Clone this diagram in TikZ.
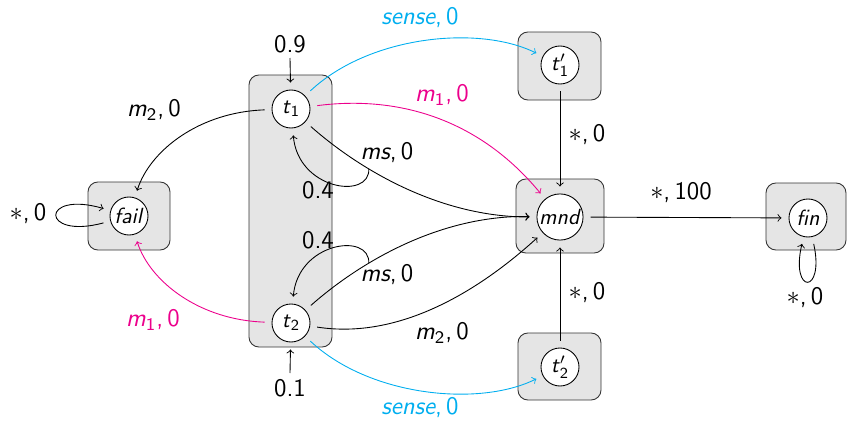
\documentclass[tikz,border=0pt]{standalone}
\usepackage{amsmath}
\definecolor{mag}{RGB}{236,0,140}
\definecolor{cya}{RGB}{0,174,239}
% sans italic variable with a sans index, optional prime
\newcommand{\vsub}[2]{$\text{\textit{#1}}_{\text{#2}}$}
\newcommand{\vpsub}[2]{$\text{\textit{#1}}'_{\text{#2}}$}
\tikzset{
  state/.style={circle,draw,fill=white,inner sep=0pt,minimum size=17.3pt,outer sep=3.4pt},
  grp/.style={draw=black!80,fill=black!10,rounded corners=4.5pt},
  arr/.style={->},
  lbl/.style={inner sep=0pt,font=\sffamily\fontsize{11.5}{14}\selectfont},
}
\begin{document}
\begin{tikzpicture}[x=0.455pt,y=-0.455pt,font=\sffamily]
\useasboundingbox (0,0) rectangle (847,421);

% grey group boxes
\draw[grp] (88,182) rectangle (170,250);
\draw[grp] (249,75) rectangle (332,347);
\draw[grp] (518,32) rectangle (601,100);
\draw[grp] (516,179) rectangle (604,253);
\draw[grp] (518,333) rectangle (601,400);
\draw[grp] (766,183) rectangle (846,250);

% states
\node[state] (fail) at (129,216) {\textit{fail}};
\node[state] (t1) at (291,109) {\vsub{t}{1}};
\node[state] (t2) at (291,323) {\vsub{t}{2}};
\node[state] (t1p) at (560,65) {\vpsub{t}{1}};
\node[state,minimum size=21pt] (mnd) at (560,217) {\textit{mnd}};
\node[state] (t2p) at (560,367) {\vpsub{t}{2}};
\node[state] (fin) at (808,218) {\textit{fin}};

% initial distribution
\node[lbl] (p9) at (290,44) {0.9};
\node[lbl] (p1) at (290,388) {0.1};
\coordinate (s1) at (290,58);
\coordinate (s2) at (290,373);
\draw[arr] (s1) -- (t1);
\draw[arr] (s2) -- (t2);

% moves to fail
\draw[arr] (t1) .. controls (200,112) and (150,150) .. (fail);
\draw[arr,mag] (t2) .. controls (200,320) and (150,282) .. (fail);
\node[lbl] (l1) at (154,110) {\vsub{m}{2},\,0};
\node[lbl,mag] (l2) at (153,320) {\vsub{m}{1},\,0};

% fail self-loop
\draw[arr] (fail) .. controls (40,240) and (40,190) .. (fail);
\node[lbl] (l3) at (28,214) {$*$,\,0};

% sensing
\draw[arr,cya] (t1) .. controls (370,35) and (480,25) .. (t1p);
\draw[arr,cya] (t2) .. controls (370,397) and (480,407) .. (t2p);
\node[lbl,cya] (l4) at (420,18) {\textit{sense},\,0};
\node[lbl,cya] (l5) at (420,408) {\textit{sense},\,0};

% m1 from t1
\draw[arr,mag] (t1) .. controls (400,95) and (480,120) .. (mnd);
\node[lbl,mag] (l6) at (442,95) {\vsub{m}{1},\,0};

% ms branches
\draw[arr] (t1) .. controls (360,170) and (440,217) .. coordinate[pos=0.33] (b1) (mnd);
\draw[arr] (t2) .. controls (360,262) and (440,215) .. coordinate[pos=0.33] (b2) (mnd);
\draw[arr] (b1) .. controls (370,200) and (298,190) .. (t1);
\draw[arr] (b2) .. controls (370,232) and (298,242) .. (t2);
\node[lbl] (l7) at (387,153) {\textit{ms},\,0};
\node[lbl] (l8) at (387,275) {\textit{ms},\,0};
\node[lbl] (l9) at (318,190) {0.4};
\node[lbl] (l10) at (318,240) {0.4};

% m2 from t2
\draw[arr] (t2) .. controls (400,340) and (480,290) .. (mnd);
\node[lbl] (l11) at (442,333) {\vsub{m}{2},\,0};

% after sensing
\draw[arr] (t1p) -- (mnd);
\draw[arr] (t2p) -- (mnd);
\node[lbl] (l12) at (587,135) {$*$,\,0};
\node[lbl] (l13) at (587,293) {$*$,\,0};

% to fin
\draw[arr] (mnd) -- (fin);
\node[lbl] (l14) at (681,193) {$*$,\,100};
\draw[arr] (fin) .. controls (825,295) and (790,295) .. (fin);
\node[lbl] (l15) at (805,298) {$*$,\,0};
\end{tikzpicture}
\end{document}
